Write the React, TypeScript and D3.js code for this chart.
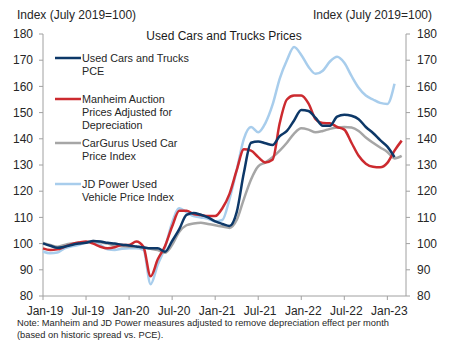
import * as d3 from "d3";
import React from "react";

// months since Jan-2019
const tickMonths = [0, 6, 12, 18, 24, 30, 36, 42, 48];
const tickLabels = ["Jan-19", "Jul-19", "Jan-20", "Jul-20", "Jan-21", "Jul-21", "Jan-22", "Jul-22", "Jan-23"];
const yTicks = [80, 90, 100, 110, 120, 130, 140, 150, 160, 170, 180];

const pce = [100.1, 99.2, 98.4, 98.8, 99.5, 100, 100.3, 101, 100.8, 100.3, 100, 99.6, 99.3, 98.9, 98.5, 98.2, 98.2, 96.9, 101, 105.5,
  111, 111.7, 111, 110, 108.5, 107.5, 106.7, 112, 127, 138.5, 139, 138.3, 137.6, 141, 143, 147, 151, 150.6, 148, 145,
  145, 148.5, 149.2, 148.8, 147.5, 144.5, 142.2, 139.5, 137, 133];
const manheim = [98.2, 97.6, 97.8, 98.8, 99.8, 100.4, 100.8, 100, 98.8, 98.2, 98.6, 99.5, 99.5, 100.8, 98.8, 87.5, 94, 99, 106.5, 112.5,
  112.5, 111.3, 110.9, 110.5, 110.5, 113.5, 119, 128, 136, 135.5, 133, 131, 132, 146, 155, 156.5, 156.5, 153.5, 147.5, 146,
  145.9, 144.5, 143.5, 138.5, 133.5, 130.5, 129.3, 129.1, 130.8, 135.5, 139.3];
const carGurus = [100.3, 99.5, 98.8, 99.5, 100, 100.3, 100.5, 101, 100.5, 100, 99.3, 99, 98.8, 98.8, 98.5, 98, 97.5, 96.5, 99.5, 104.5,
  107, 107.7, 108, 107.5, 107, 106.5, 106, 109, 117, 124.5, 129.5, 131, 133, 135.5, 138.5, 142, 144, 143.5, 142.5, 143,
  143.8, 144.3, 144.5, 144.3, 143, 140.5, 138.5, 136.7, 135, 132.5, 133.5];
const jdPower = [97, 96.3, 96.6, 98.2, 99, 99.5, 100.5, 100.8, 99.5, 97.8, 97.6, 98, 98.2, 98.2, 97.6, 84.5, 92, 98.5, 108, 113.5,
  112, 110.5, 110, 109.5, 108.5, 109, 117, 128, 140, 144.5, 142.5, 146, 153, 163, 170, 175, 172, 167.5, 164.8, 166,
  169.5, 171.3, 169, 164, 159.5, 156.5, 155, 153.7, 153.3, 161];

const series = [
  { name: ["JD Power Used", "Vehicle Price Index"], values: jdPower, color: "#a8cdec", ly: 184 },
  { name: ["CarGurus Used Car", "Price Index"], values: carGurus, color: "#a6a6a6", ly: 143 },
  { name: ["Manheim Auction", "Prices Adjusted for", "Depreciation"], values: manheim, color: "#cc2a2f", ly: 99 },
  { name: ["Used Cars and Trucks", "PCE"], values: pce, color: "#0d3868", ly: 58 },
];

const FONT = "'Liberation Sans', Arial, sans-serif";
const AXIS = "#a0a0a0";

export default function App() {
  const W = 453, H = 353;
  const left = 43, right = 406, top = 34, bottom = 296;
  const x = d3.scaleLinear([0, 50.6], [left, right]);
  const y = d3.scaleLinear([80, 180], [bottom, top]);
  const line = d3.line<number>().x((_, i) => x(i)).y((d) => y(d)).curve(d3.curveMonotoneX);

  return (
    <svg width={W} height={H} style={{ position: "absolute", left: 0, top: 0, background: "#fff" }} fontFamily={FONT}>
      <text x={17} y={19} fontSize={12} fill="#262626">Index (July 2019=100)</text>
      <text x={432} y={19} fontSize={12} fill="#262626" textAnchor="end">Index (July 2019=100)</text>
      <text x={224} y={40} fontSize={12} fill="#1a1a1a" textAnchor="middle">Used Cars and Trucks Prices</text>

      {/* left axis */}
      <line x1={left} x2={left} y1={top} y2={bottom} stroke={AXIS} />
      {yTicks.map((t) => (
        <g key={"l" + t}>
          <line x1={left - 4} x2={left} y1={y(t)} y2={y(t)} stroke={AXIS} />
          <text x={33} y={y(t)} dy="0.35em" fontSize={12} textAnchor="end" fill="#262626">{t}</text>
        </g>
      ))}
      {/* right axis */}
      <line x1={right} x2={right} y1={top} y2={bottom} stroke={AXIS} />
      {yTicks.map((t) => (
        <g key={"r" + t}>
          <line x1={right} x2={right + 4} y1={y(t)} y2={y(t)} stroke={AXIS} />
          <text x={417} y={y(t)} dy="0.35em" fontSize={12} fill="#262626">{t}</text>
        </g>
      ))}
      {/* x axis */}
      <line x1={left} x2={right} y1={bottom} y2={bottom} stroke={AXIS} />
      {tickMonths.map((m, i) => (
        <g key={"x" + m}>
          <line x1={x(m)} x2={x(m)} y1={bottom} y2={bottom + 4} stroke={AXIS} />
          <text x={x(m) + 2} y={315} fontSize={12} textAnchor="middle" fill="#262626">{tickLabels[i]}</text>
        </g>
      ))}

      {series.map((s) => (
        <path key={s.name[0]} d={line(s.values) || ""} fill="none" stroke={s.color} strokeWidth={2.5} strokeLinejoin="round" />
      ))}

      {/* legend */}
      {series.map((s) => (
        <g key={"lg" + s.name[0]}>
          <line x1={55} x2={81} y1={s.ly} y2={s.ly} stroke={s.color} strokeWidth={2.5} />
          {s.name.map((n, j) => (
            <text key={n} x={82} y={s.ly + j * 13} dy="0.35em" fontSize={10.8} fill="#262626">{n}</text>
          ))}
        </g>
      ))}

      <text x={17} y={326} fontSize={9.3} fill="#262626">Note: Manheim and JD Power measures adjusted to remove depreciation effect per month</text>
      <text x={17} y={338} fontSize={9.3} fill="#262626">(based on historic spread vs. PCE).</text>
    </svg>
  );
}
